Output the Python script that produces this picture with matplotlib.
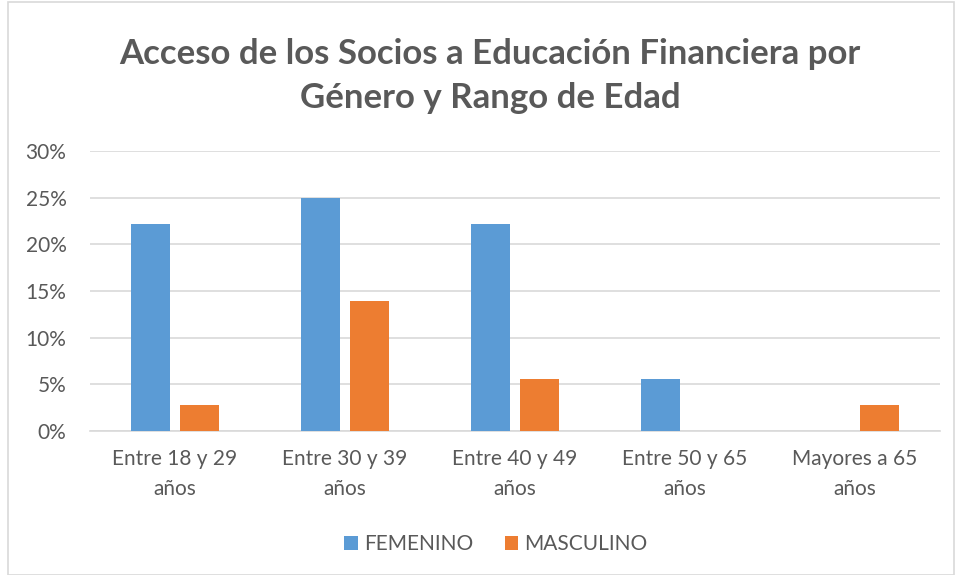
import numpy as np
import matplotlib.pyplot as plt
from matplotlib.patches import Rectangle
from matplotlib.ticker import PercentFormatter

# datos
categorias = ["Entre 18 y 29\naños", "Entre 30 y 39\naños", "Entre 40 y 49\naños",
              "Entre 50 y 65\naños", "Mayores a 65\naños"]
femenino = [0.2222, 0.25, 0.2222, 0.0556, 0.0]
masculino = [0.0278, 0.1389, 0.0556, 0.0, 0.0278]

AZUL = "#5B9BD5"
NARANJA = "#ED7D31"
GRIS = "#595959"

plt.rcParams["font.family"] = ["Lato", "DejaVu Sans"]

fig = plt.figure(figsize=(9.56, 5.75), dpi=100)
ax = fig.add_axes([90 / 956, 144 / 575, 850 / 956, 280 / 575])

x = np.arange(len(categorias))
w = 0.23
ax.bar(x - 0.145, femenino, w, color=AZUL, label="FEMENINO", zorder=3)
ax.bar(x + 0.145, masculino, w, color=NARANJA, label="MASCULINO", zorder=3)

ax.set_xlim(-0.5, len(categorias) - 0.5)
ax.set_ylim(0, 0.30)
ax.set_yticks(np.arange(0, 0.31, 0.05))
ax.yaxis.set_major_formatter(PercentFormatter(1.0, decimals=0))
ax.set_xticks(x)
ax.set_xticklabels(categorias, fontsize=15, color=GRIS, linespacing=1.6)
ax.tick_params(axis="y", labelsize=15, labelcolor=GRIS, length=0, pad=17)
ax.tick_params(axis="x", length=0, pad=13)
ax.grid(axis="y", color="#D9D9D9", linewidth=1.2, zorder=0)
for s in ["top", "right", "left"]:
    ax.spines[s].set_visible(False)
ax.spines["bottom"].set_color("#D9D9D9")
ax.spines["bottom"].set_linewidth(1.2)

fig.text(490 / 956, 1 - 76 / 575, "Acceso de los Socios a Educación Financiera por\nGénero y Rango de Edad",
         ha="center", va="center", fontsize=25, fontweight="bold", color=GRIS, linespacing=1.45)

fig.legend(loc="center", bbox_to_anchor=(496 / 956, 1 - 544 / 575), ncol=2, frameon=False,
           fontsize=15, labelcolor=GRIS, handlelength=0.65, handleheight=0.65,
           handletextpad=0.3, columnspacing=1.5)

# borde del gráfico
fig.patches.append(Rectangle((8 / 956, 0), 1 - 10 / 956, 1 - 2 / 575, transform=fig.transFigure,
                             fill=False, edgecolor="#D9D9D9", linewidth=1.2))

fig.savefig("out.png", dpi=100)
